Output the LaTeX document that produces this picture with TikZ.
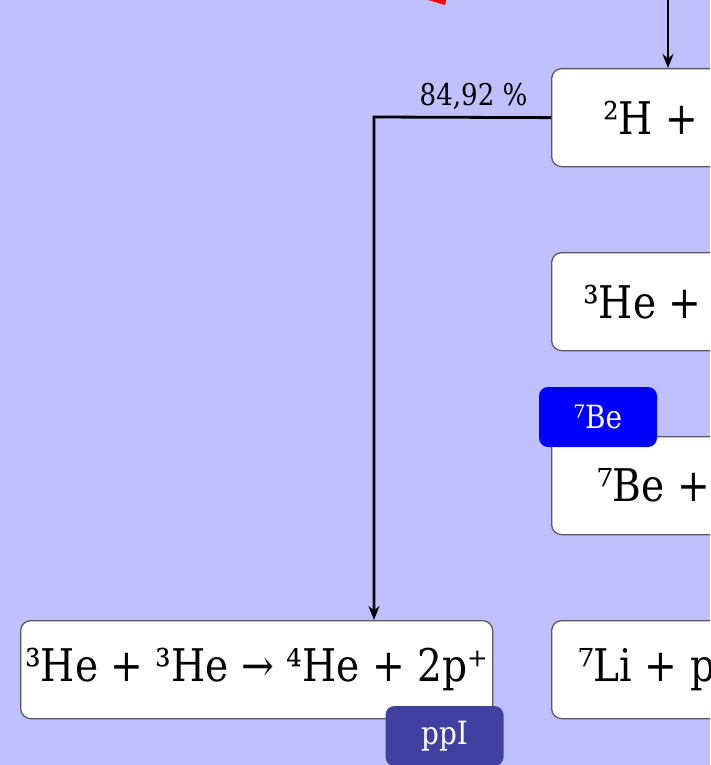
\documentclass[tikz,border=0pt]{standalone}
\usepackage{fontspec}
\setmainfont{DejaVu Serif}[FakeStretch=0.87]
\usetikzlibrary{arrows.meta,positioning}
\definecolor{bgcol}{RGB}{192,192,255}
\definecolor{ppcol}{RGB}{64,64,160}
\definecolor{becol}{RGB}{0,0,255}
\tikzset{
  rbox/.style={draw=black!65,fill=white,rounded corners=10pt,line width=1.3pt,
    minimum height=98pt,inner sep=0pt},
  eqn/.style={font=\fontsize{45}{50}\selectfont,inner sep=0pt,anchor=west},
  tag/.style={rounded corners=9pt,minimum width=118pt,minimum height=60pt,
    inner sep=0pt,text=white,font=\fontsize{32}{36}\selectfont},
  flow/.style={-{Stealth[length=14pt,width=11pt]},line width=2.8pt}
}
\begin{document}
\begin{tikzpicture}[x=1pt,y=-1pt]
\useasboundingbox (0,0) rectangle (710,765);
\clip (0,0) rectangle (710,765);
\fill[bgcol] (0,0) rectangle (710,765);
% boxes
\node[rbox,minimum width=400pt,anchor=north west] (deut) at (551,68) {};
\node[rbox,minimum width=400pt,anchor=north west] (hethree) at (551,252) {};
\node[rbox,minimum width=400pt,anchor=north west] (beseven) at (551,436) {};
\node[rbox,minimum width=400pt,anchor=north west] (liseven) at (551,620) {};
\node[rbox,minimum width=472pt,anchor=north west] (ppone) at (20,620) {};
% visible text
\node[eqn] (tdeut) at ([xshift=52pt]deut.west) {²H +};
\node[eqn] (thethree) at ([xshift=32pt]hethree.west) {³He +};
\node[eqn] (tbeseven) at ([xshift=46pt]beseven.west) {⁷Be +};
\node[eqn] (tliseven) at ([xshift=27pt]liseven.west) {⁷Li + p};
\node[eqn,anchor=center] (tppone) at (ppone.center) {³He + ³He → ⁴He + 2p⁺};
% tags
\node[tag,fill=becol] (tagbe) at (598,417) {⁷Be};
\node[tag,fill=ppcol] (tagpp) at (444.5,736) {ppI};
% connectors
\coordinate (top) at (668,0);
\draw[flow] (top) -- (top |- deut.north);
\coordinate (bend) at (374,117);
\draw[flow] (deut.west) -- (bend) -- (bend |- ppone.north)
  node[pos=0,above right=3pt and 41pt,font=\fontsize{30}{34}\selectfont] (pct) {84,92 \%};
% red
\fill[red] (428,0) -- (446,0) -- (445,5) -- cycle;
\end{tikzpicture}
\end{document}
